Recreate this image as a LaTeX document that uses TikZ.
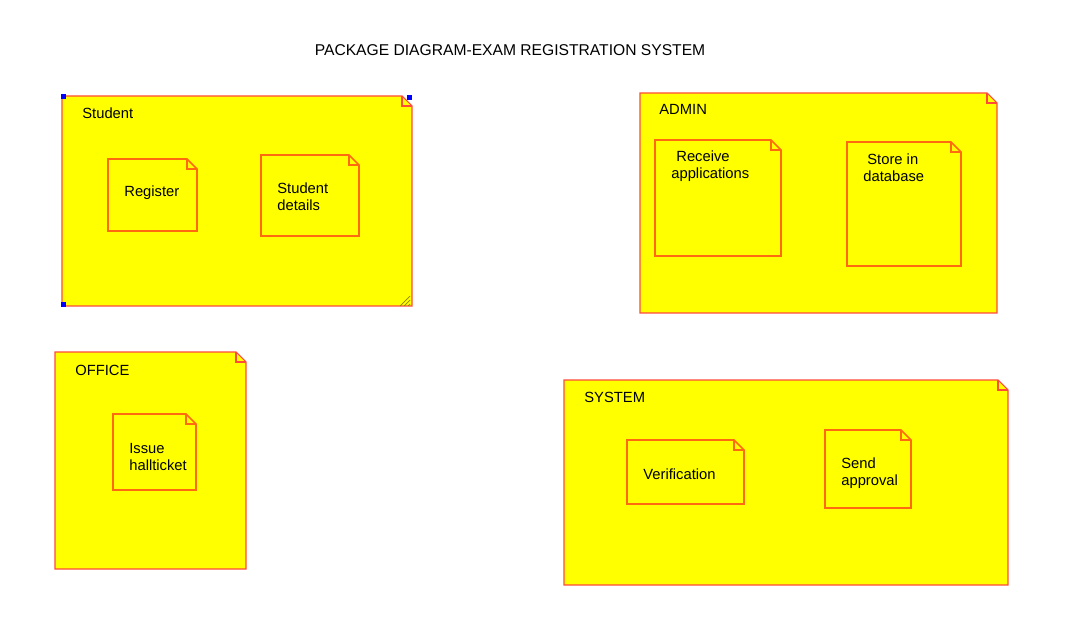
\documentclass[tikz,border=0pt]{standalone}
\usepackage{fontspec}
\setmainfont{Liberation Sans}
\definecolor{pkgfill}{HTML}{FFFF00}
\definecolor{pkgline}{HTML}{FF4A3A}
\definecolor{subline}{HTML}{FF6A10}
\definecolor{handle}{HTML}{0000FF}
\tikzset{pkg/.style={draw=pkgline,fill=pkgfill,line width=0.6pt},
sub/.style={draw=subline,fill=pkgfill,line width=0.9pt},
lbl/.style={inner sep=0pt,anchor=west,align=left,font=\fontsize{8.4}{9.8}\selectfont}}
% note shape: style, x1, y1, x2, y2 (pixels)
\newcommand{\notebox}[5]{%
\filldraw[#1] (#2,#3) -- (#4-10,#3) -- (#4,#3+10) -- (#4,#5) -- (#2,#5) -- cycle;
\draw[#1,fill=none] (#4-10,#3) -- (#4-10,#3+10) -- (#4,#3+10);}

\begin{document}
\begin{tikzpicture}[x=0.02cm,y=-0.02cm]
\useasboundingbox (0,0) rectangle (1070,634);
\node[lbl,anchor=center,font=\fontsize{8.9}{10}\selectfont] (title) at (510,50) {PACKAGE DIAGRAM-EXAM REGISTRATION SYSTEM};

% Student
\notebox{pkg}{62}{96}{412}{306}
\node[lbl] (student) at (82,113) {Student};
\notebox{sub}{108}{159}{197}{231}
\node[lbl] (register) at (124,193) {Register};
\notebox{sub}{261}{155}{359}{236}
\node[lbl] (details) at (277,197) {Student\\details};
\foreach \p in {(63,97),(409,98),(63,305)}
  \fill[handle] \p ++(-2.5,-2.5) rectangle ++(5,5);
\foreach \d in {0,4,8}
  \draw[olive,line width=0.4pt] (410,296+\d) -- (400+\d,306);

% ADMIN
\notebox{pkg}{640}{93}{997}{313}
\node[lbl] (admin) at (659,109) {ADMIN};
\notebox{sub}{655}{140}{781}{256}
\node[lbl] (receive) at (671,166) {\hspace*{0.1cm}Receive\\applications};
\notebox{sub}{847}{142}{961}{266}
\node[lbl] (store) at (863,168) {\hspace*{0.08cm}Store in\\database};

% OFFICE
\notebox{pkg}{55}{352}{246}{569}
\node[lbl] (office) at (75,370) {OFFICE};
\notebox{sub}{113}{414}{196}{490}
\node[lbl] (issue) at (129,457) {Issue\\hallticket};

% SYSTEM
\notebox{pkg}{564}{380}{1008}{585}
\node[lbl] (system) at (584,397) {SYSTEM};
\notebox{sub}{627}{440}{744}{504}
\node[lbl] (verify) at (643,474) {Verification};
\notebox{sub}{825}{430}{911}{508}
\node[lbl] (send) at (841,473) {Send\\approval};
\end{tikzpicture}
\end{document}
